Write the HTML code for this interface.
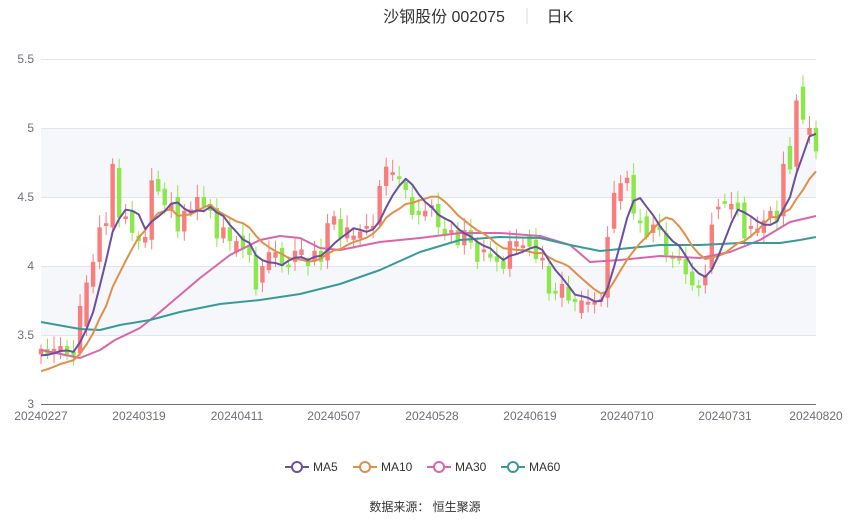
<!DOCTYPE html>
<html><head><meta charset="utf-8"><style>
body{margin:0;background:#fff;width:850px;height:517px;overflow:hidden;font-family:"Liberation Sans","Noto Sans CJK SC",sans-serif}
</style></head><body>
<svg id="s" width="850" height="517" xmlns="http://www.w3.org/2000/svg" font-family="Liberation Sans, Noto Sans CJK SC, sans-serif">
<rect x="41" y="128" width="775" height="69" fill="#f5f7fb"/>
<rect x="41" y="266" width="775" height="69" fill="#f5f7fb"/>
<g stroke="#e0e5ee" stroke-width="1">
<line x1="41" x2="816" y1="59.5" y2="59.5"/><line x1="41" x2="816" y1="128.5" y2="128.5"/>
<line x1="41" x2="816" y1="197.5" y2="197.5"/><line x1="41" x2="816" y1="266.5" y2="266.5"/>
<line x1="41" x2="816" y1="335.5" y2="335.5"/></g>
<line x1="41" x2="816" y1="404.5" y2="404.5" stroke="#6e7079"/>
<g font-size="12" fill="#6e7079" text-anchor="end">
<text x="34" y="63">5.5</text><text x="34" y="132">5</text><text x="34" y="201">4.5</text>
<text x="34" y="270">4</text><text x="34" y="339">3.5</text><text x="34" y="408">3</text></g>
<g font-size="12" fill="#6e7079" text-anchor="middle">
<text x="41" y="420">20240227</text><text x="139" y="420">20240319</text><text x="237" y="420">20240411</text>
<text x="334" y="420">20240507</text><text x="432" y="420">20240528</text><text x="530" y="420">20240619</text>
<text x="627" y="420">20240710</text><text x="725" y="420">20240731</text><text x="816" y="420">20240820</text></g>
<g id="c"></g>
<text x="444" y="22" font-size="16" fill="#333" text-anchor="middle">沙钢股份 002075</text>
<line x1="527" x2="527" y1="8" y2="24" stroke="#ddd"/>
<text x="560" y="22" font-size="16" fill="#333" text-anchor="middle">日K</text>
<g font-size="12" fill="#333">
<line x1="285" x2="309" y1="467" y2="467" stroke="#6b4fa0" stroke-width="2"/><circle cx="297" cy="467" r="5" fill="#fff" stroke="#6b4fa0" stroke-width="2"/><text x="313" y="471">MA5</text>
<line x1="353" x2="377" y1="467" y2="467" stroke="#e0904a" stroke-width="2"/><circle cx="365" cy="467" r="5" fill="#fff" stroke="#e0904a" stroke-width="2"/><text x="381" y="471">MA10</text>
<line x1="427" x2="451" y1="467" y2="467" stroke="#d966a8" stroke-width="2"/><circle cx="439" cy="467" r="5" fill="#fff" stroke="#d966a8" stroke-width="2"/><text x="455" y="471">MA30</text>
<line x1="501" x2="525" y1="467" y2="467" stroke="#3a9a9a" stroke-width="2"/><circle cx="513" cy="467" r="5" fill="#fff" stroke="#3a9a9a" stroke-width="2"/><text x="529" y="471">MA60</text>
</g>
<text x="425" y="511" font-size="12" fill="#333" text-anchor="middle">数据来源：  恒生聚源</text>
</svg>
<script>
var D=[[3.36,3.40],[3.40,3.36],[3.36,3.40],[3.38,3.42],[3.42,3.36],[3.38,3.35],[3.37,3.71],[3.56,3.88],[3.85,4.03],[4.03,4.28],
[4.29,4.31],[4.28,4.74],[4.71,4.35],[4.34,4.36],[4.40,4.24],[4.22,4.18],[4.17,4.21],[4.19,4.62],[4.63,4.54],[4.56,4.44],
[4.40,4.45],[4.50,4.25],[4.25,4.40],[4.38,4.41],[4.40,4.50],[4.50,4.43],[4.45,4.40],[4.42,4.20],[4.20,4.28],[4.28,4.18],
[4.10,4.18],[4.22,4.12],[4.15,4.08],[4.08,3.83],[3.88,4.00],[3.97,4.10],[4.06,4.10],[4.13,4.00],[4.01,3.99],[4.03,4.11],
[4.08,4.12],[4.03,4.00],[4.04,4.11],[4.11,4.03],[4.04,4.31],[4.30,4.36],[4.34,4.20],[4.20,4.28],[4.19,4.22],[4.20,4.25],
[4.27,4.29],[4.27,4.29],[4.30,4.58],[4.58,4.72],[4.66,4.68],[4.65,4.63],[4.61,4.55],[4.50,4.37],[4.40,4.37],[4.36,4.40],
[4.42,4.44],[4.45,4.28],[4.27,4.23],[4.24,4.26],[4.26,4.15],[4.15,4.26],[4.26,4.17],[4.17,4.03],[4.10,4.12],[4.09,4.06],
[4.07,4.03],[4.04,3.98],[3.98,4.18],[4.14,4.18],[4.13,4.15],[4.22,4.14],[4.19,4.05],[4.04,4.06],[4.00,3.80],[3.82,3.80],
[3.77,3.87],[3.85,3.75],[3.76,3.74],[3.66,3.75],[3.72,3.74],[3.72,3.74],[3.74,3.76],[3.77,4.21],[4.27,4.53],[4.47,4.60],
[4.60,4.64],[4.66,4.38],[4.33,4.31],[4.36,4.21],[4.24,4.30],[4.29,4.26],[4.24,4.08],[4.07,4.05],[4.06,4.04],[4.05,3.94],
[3.96,3.86],[3.86,3.84],[3.86,3.93],[3.98,4.30],[4.41,4.43],[4.47,4.45],[4.41,4.45],[4.46,4.41],[4.46,4.20],[4.27,4.29],
[4.24,4.27],[4.24,4.33],[4.35,4.40],[4.40,4.32],[4.36,4.74],[4.87,4.70],[4.72,5.20],[5.30,5.06],[4.95,5.00],[5.00,4.83]];
var C=D.map(function(d){return d[1]});
function X(i){return 41+i*775/119}function Y(v){return 404-(v-3)*138}
var g=document.getElementById('c'),h='';
for(var i=0;i<D.length;i++){var o=D[i][0],c=D[i][1];var up=c>o,col=up?'#fa7d7d':'#8ce84a';
var hi=Math.max(o,c)+0.03+Math.abs(Math.sin(i*2.3))*0.06,lo=Math.min(o,c)-0.02-Math.abs(Math.cos(i*1.3))*0.05;var x=X(i);
h+='<line x1="'+x+'" x2="'+x+'" y1="'+Y(hi)+'" y2="'+Y(lo)+'" stroke="'+col+'"/>';
var t=Y(Math.max(o,c)),b=Y(Math.min(o,c));h+='<rect x="'+(x-2.2)+'" y="'+t+'" width="4.4" height="'+Math.max(1.2,b-t)+'" fill="'+col+'"/>';}
function ma(n,pad){var p=[];for(var i=0;i<C.length;i++){var s=0;for(var k=0;k<n;k++){var j=i-k;s+=j>=0?C[j]:pad}p.push(X(i)+','+Y(s/n))}return p.join(' ')}
function pl(pts,col){return '<polyline points="'+pts+'" fill="none" stroke="'+col+'" stroke-width="2" stroke-linejoin="round"/>'}
h+=pl("41,350 80,358 100,350 115,340 140,328 160,312 180,295 200,278 230,255 260,240 280,236 300,238 320,248 340,250 360,246 380,242 420,238 460,233 500,233 540,236 570,245 590,262 620,260 660,256 700,258 730,252 760,240 790,222 816,216",'#d966a8');
h+=pl("41,322 80,329 100,330 120,325 150,320 180,312 220,304 260,300 300,294 340,284 380,270 420,252 460,240 500,237 540,238 570,245 600,251 630,248 660,245 700,245 740,243 780,243 800,240 816,237",'#3a9a9a');
h+=pl(ma(10,3.22),'#e0904a');h+=pl(ma(5,3.34),'#6b4fa0');
g.innerHTML=h;
</script>
</body></html>
